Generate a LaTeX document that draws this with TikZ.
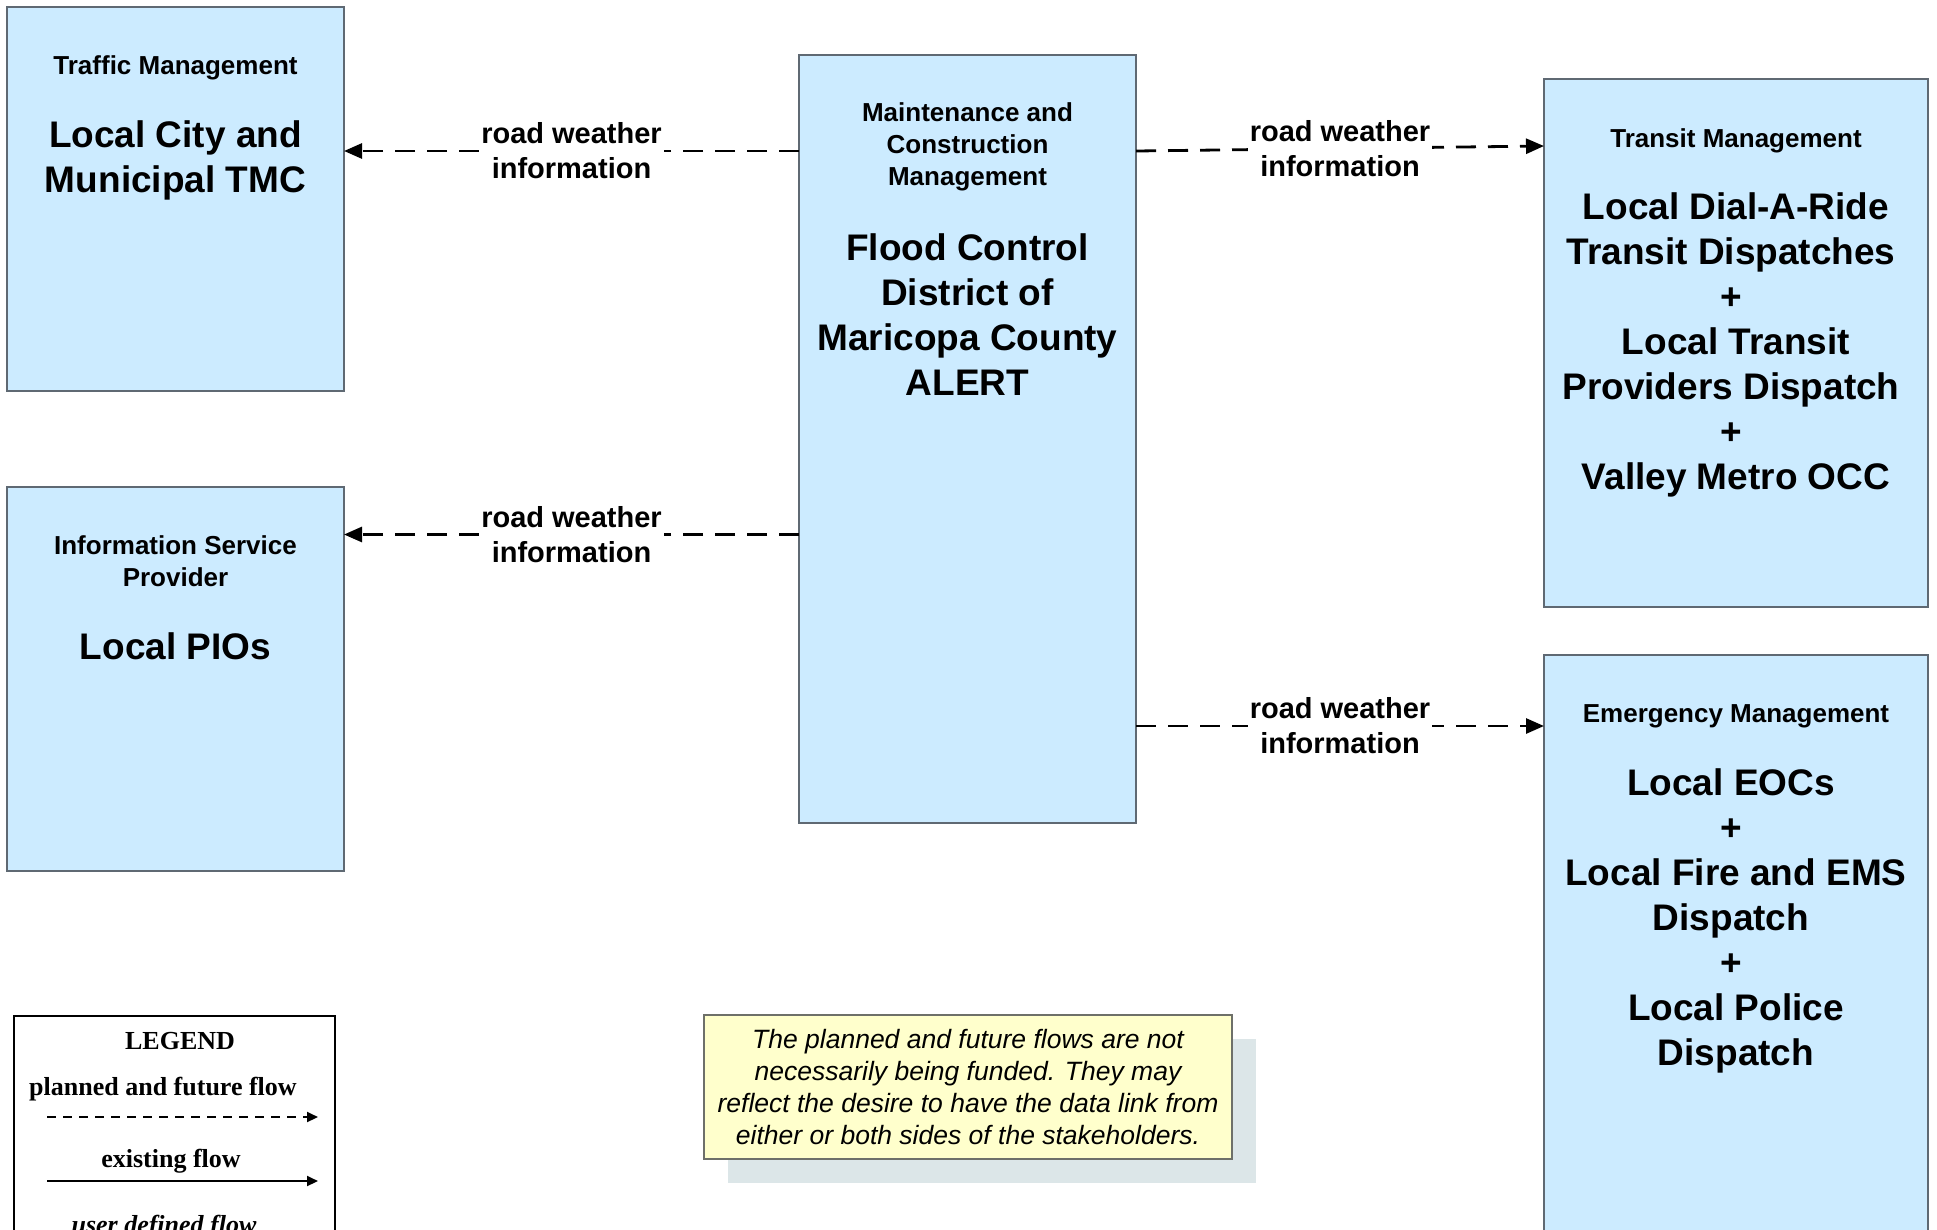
\documentclass[tikz,border=0pt]{standalone}
\usepackage{fontspec}
\setmainfont{Liberation Sans}
\newfontfamily\legendserif{Liberation Serif}
\usetikzlibrary{arrows.meta}
\definecolor{boxfill}{RGB}{204,235,255}
\definecolor{boxline}{RGB}{95,105,115}
\definecolor{notefill}{RGB}{255,255,204}
\definecolor{noteshadow}{RGB}{220,230,232}
\definecolor{noteline}{RGB}{110,112,105}
\newcommand\trailsp{\rule{10pt}{0pt}}
\begin{document}
\begin{tikzpicture}[x=1pt,y=-1pt,
  sysbox/.style={draw=boxline, fill=boxfill, line width=1.6pt, rectangle, inner sep=0pt, outer sep=0pt},
  cattext/.style={font=\bfseries\fontsize{26}{32}\selectfont, align=center, inner sep=0pt},
  titletext/.style={font=\bfseries\fontsize{37}{45}\selectfont, align=center, inner sep=0pt},
  flowline/.style={line width=2.8pt, dash pattern=on 20pt off 12pt, -{Triangle[length=18pt,width=15pt]}},
  flowlabel/.style={fill=white, font=\bfseries\fontsize{29}{35}\selectfont, align=center, inner sep=2pt},
  legtext/.style={font=\legendserif\bfseries\fontsize{26}{30}\selectfont, inner sep=0pt},
  legline/.style={line width=2pt, -{Triangle[length=11pt,width=10pt]}}
]
\path[use as bounding box, clip] (0,0) rectangle (1937,1229);
\fill[white] (0,0) rectangle (1937,1229);

% systems
\node[sysbox, minimum width=337pt, minimum height=384pt] (tmc) at (175.5,199) {};
\node[cattext] (tmccat) at (175.5,68) {Traffic Management};
\node[titletext] (tmctitle) at (175.5,160) {Local City and\\Municipal TMC};

\node[sysbox, minimum width=337pt, minimum height=384pt] (pio) at (175.5,679) {};
\node[cattext] (piocat) at (175.5,561.5) {Information Service\\Provider};
\node[titletext] (piotitle) at (175.5,646.5) {Local PIOs};

\node[sysbox, minimum width=337pt, minimum height=768pt] (ctr) at (967.5,439) {};
\node[cattext] (ctrcat) at (967.5,147) {Maintenance and\\Construction\\Management};
\node[titletext] (ctrtitle) at (967.5,314.5) {Flood Control\\District of\\Maricopa County\\ALERT};

\node[sysbox, minimum width=384pt, minimum height=528pt] (transit) at (1736,343) {};
\node[cattext] (transitcat) at (1736,141) {Transit Management};
\node[titletext] (transittitle) at (1736,345) {Local Dial-A-Ride\\Transit Dispatches\trailsp\\+\trailsp\\Local Transit\\Providers Dispatch\trailsp\\+\trailsp\\Valley Metro OCC};

\node[sysbox, minimum width=384pt, minimum height=645pt] (ems) at (1736,977.5) {};
\node[cattext] (emscat) at (1736,716) {Emergency Management};
\node[titletext] (emstitle) at (1736,920.5) {Local EOCs\trailsp\\+\trailsp\\Local Fire and EMS\\Dispatch\trailsp\\+\trailsp\\Local Police\\Dispatch};

% flows
\draw[flowline] ([yshift=-96pt]ctr.north west) -- ([yshift=-144pt]tmc.north east)
  node[midway, flowlabel] (lab1) {road weather\\information};
\draw[flowline] ([yshift=-479.5pt]ctr.north west) -- ([yshift=-47.5pt]pio.north east)
  node[midway, flowlabel] (lab2) {road weather\\information};
\draw[flowline] ([yshift=-96pt]ctr.north east) -- ([yshift=-67pt]transit.north west)
  node[midway, flowlabel] (lab3) {road weather\\information};
\draw[flowline] ([yshift=-671pt]ctr.north east) -- ([yshift=-71pt]ems.north west)
  node[midway, flowlabel] (lab4) {road weather\\information};

% note
\node[fill=noteshadow, minimum width=528pt, minimum height=144pt, inner sep=0pt] (noteshade) at (992,1111) {};
\node[draw=noteline, fill=notefill, line width=1.4pt, minimum width=528pt, minimum height=144pt, inner sep=0pt,
  align=center, font=\itshape\fontsize{26.5}{32}\selectfont] (note) at (968,1087)
  {The planned and future flows are not\\necessarily being funded. They may\\reflect the desire to have the data link from\\either or both sides of the stakeholders.};

% legend
\node[draw=black, line width=2.4pt, minimum width=321pt, minimum height=284pt, inner sep=0pt] (legend) at (174.5,1158) {};
\node[legtext] (legtitle) at (180,1041) {LEGEND};
\node[legtext] (legplanned) at (163,1089) {planned and future flow};
\coordinate (pa) at (47,1117);
\coordinate (pb) at (318,1117);
\draw[legline, dash pattern=on 9pt off 7pt] (pa) -- (pb);
\node[legtext] (legexisting) at (171,1161) {existing flow};
\coordinate (ea) at (47,1181);
\coordinate (eb) at (318,1181);
\draw[legline] (ea) -- (eb);
\node[legtext, anchor=base, font=\legendserif\bfseries\itshape\fontsize{26}{30}\selectfont] (leguser) at (164,1233) {user defined flow};
\end{tikzpicture}
\end{document}
